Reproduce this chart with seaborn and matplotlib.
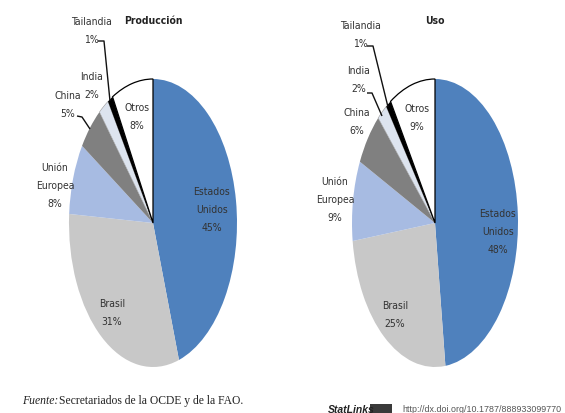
import matplotlib
matplotlib.use("Agg")
import matplotlib.pyplot as plt
import seaborn as sns
from matplotlib.patches import Rectangle

# ---------------- data ----------------
categorias = ["Estados\nUnidos", "Brasil", "Unión\nEuropea", "China", "India", "Tailandia", "Otros"]
produccion = [45, 31, 8, 5, 2, 1, 8]
uso = [48, 25, 9, 6, 2, 1, 9]
titulos = ["Producción", "Uso"]
colores = ["#4F81BD", "#C8C8C8", "#A7BBE2", "#808080", "#DDE4EF", "#000000", "#FFFFFF"]
fuente = "Secretariados de la OCDE y de la FAO."
url = "http://dx.doi.org/10.1787/888933099770"

sns.set_theme(style="white")
plt.rcParams["font.family"] = ["DejaVu Sans"]
plt.rcParams["font.stretch"] = "condensed"

W, H = 565, 414
fig = plt.figure(figsize=(W / 100, H / 100), dpi=100)
fig.patch.set_facecolor("white")

TXT = "#333333"
FS = 7.5

def make_pie(values, cx, cy, rx, ry, title, label_px, leaders):
    ax = fig.add_axes([(cx - rx) / W, (H - (cy + ry)) / H, 2 * rx / W, 2 * ry / H])
    wedges, _ = ax.pie(values, colors=colores, startangle=90, counterclock=False,
                       radius=1.0, wedgeprops=dict(linewidth=0))
    wedges[6].set_edgecolor("#000000"); wedges[6].set_linewidth(0.9)
    wedges[4].set_edgecolor("#9A9A9A"); wedges[4].set_linewidth(0.4)
    ax.set_aspect("auto")
    ax.set_xlim(-1, 1)
    ax.set_ylim(-1, 1)
    ax.axis("off")

    def d(px, py):
        return ((px - cx) / rx, (cy - py) / ry)

    ax.text(*d(cx, 21), title, ha="center", va="center", fontsize=7.5,
            fontweight="bold", color="#222222", clip_on=False)
    for i, (name, v) in enumerate(zip(categorias, values)):
        px, py = label_px[i]
        ax.text(*d(px, py), f"{name}\n{v}%", ha="center", va="center",
                fontsize=FS, color=TXT, linespacing=2.0, clip_on=False)
    for pts in leaders:
        xs, ys = zip(*[d(p[0], p[1]) for p in pts])
        ax.plot(xs, ys, color="#111111", lw=1.0, clip_on=False,
                solid_capstyle="butt")
    return ax

left_labels = [(212, 210), (112, 313), (55, 186), (68, 105), (92, 86), (91, 31), (137, 117)]
left_leaders = [[(77, 117), (82, 118), (90, 130)],
                [(98, 42), (104, 42), (110, 102)]]
make_pie(produccion, 153, 224, 84, 144, titulos[0], left_labels, left_leaders)

right_labels = [(498, 232), (395, 315), (335, 200), (357, 122), (359, 80), (360, 35), (417, 118)]
right_leaders = [[(367, 94), (372, 94), (382, 117)],
                 [(367, 47), (373, 47), (388, 108)]]
make_pie(uso, 435, 224, 83, 144, titulos[1], right_labels, right_leaders)

# footer
serif = ["Liberation Serif", "DejaVu Serif"]
fig.text(22 / W, 1 - 401 / H, "Fuente:", family=serif, fontstretch="normal",
         style="italic", fontsize=8.4, color="#222222", va="center", ha="left")
fig.text(59 / W, 1 - 401 / H, fuente, family=serif, fontstretch="normal",
         fontsize=8.4, color="#222222", va="center", ha="left")

fig.text(328 / W, 1 - 410 / H, "StatLinks", family=["Liberation Sans", "DejaVu Sans"],
         fontstretch="normal", style="italic", fontweight="bold", fontsize=7.5,
         color="#222222", va="center", ha="left")
fig.add_artist(Rectangle((370 / W, 1 - 414 / H), 22 / W, 9 / H,
                         transform=fig.transFigure, facecolor="#3A3A3A",
                         edgecolor="none"))
fig.text(402 / W, 1 - 410 / H, url, family=["Liberation Sans", "DejaVu Sans"],
         fontstretch="normal", fontsize=6.4, color="#555555",
         va="center", ha="left")

fig.savefig("out.png", dpi=100, facecolor="white")
